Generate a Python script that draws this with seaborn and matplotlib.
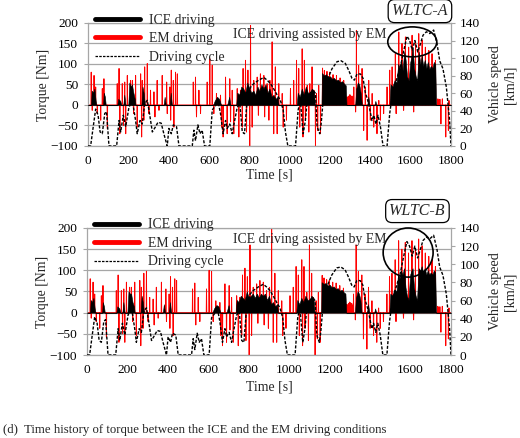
import numpy as np
import pandas as pd
import matplotlib
matplotlib.use("Agg")
import matplotlib.pyplot as plt
from matplotlib.patches import Ellipse
from matplotlib.lines import Line2D
import seaborn as sns

# ---------------- data ----------------
spd_t = [0, 13, 26, 38, 50, 60, 71, 83, 92, 104, 142, 154, 162, 175, 187, 203, 220, 236, 244, 258,
         269, 281, 294, 305, 319, 335, 347, 363, 376, 393, 401, 413, 423, 439, 451, 517, 525, 533,
         545, 555, 566, 578, 604, 616, 632, 644, 657, 670, 682, 690, 703, 715, 723, 740, 753, 765,
         776, 789, 806, 822, 847, 872, 888, 905, 921, 938, 954, 968, 979, 991, 1029, 1042, 1053,
         1067, 1078, 1087, 1100, 1116, 1128, 1136, 1149, 1156, 1166, 1186, 1210, 1235, 1255, 1276,
         1293, 1309, 1321, 1334, 1351, 1364, 1375, 1387, 1397, 1408, 1417, 1428, 1438, 1450, 1463,
         1483, 1496, 1512, 1529, 1549, 1569, 1582, 1595, 1608, 1621, 1635, 1648, 1661, 1678, 1695,
         1714, 1731, 1744, 1760, 1777, 1793, 1800]
spd_v = [0, 0, 22, 42, 35, 16, 14, 37, 39, 0, 0, 29, 16, 35, 22, 44, 52, 29, 14, 29,
         25, 48, 52, 37, 16, 22, 27, 26, 14, 0, 20, 14, 24, 22, 0, 0, 18, 6,
         24, 14, 18, 0, 0, 41, 46, 52, 37, 14, 29, 20, 25, 14, 24, 44, 48, 16,
         14, 52, 67, 71, 75, 78, 75, 71, 65, 58, 52, 41, 16, 0, 0, 41, 52,
         14, 29, 52, 60, 63, 60, 22, 14, 25, 52, 75, 88, 96, 97, 94,
         86, 77, 75, 82, 82, 77, 61, 52, 42, 29, 35, 25, 35, 22, 0,
         0, 37, 63, 75, 90, 112, 125, 120, 109, 120, 107, 116, 126, 130, 128,
         132, 116, 97, 88, 67, 29, 0]

# ICE driving torque, WLTC-A
ice_a_t = [0, 15, 18, 25, 32, 38, 42, 75, 78, 84, 88, 145, 150, 160, 165, 175, 180, 186, 200, 205,
           212, 218, 225, 232, 236, 265, 270, 276, 282, 375, 380, 386, 405, 410, 416, 620, 628, 640,
           650, 660, 690, 700, 706, 735, 740, 750, 760, 770, 780, 790, 800, 810, 820, 830, 840, 850,
           860, 870, 880, 890, 900, 910, 920, 930, 940, 945, 1035, 1040, 1050, 1060, 1070, 1080,
           1090, 1100, 1110, 1120, 1125, 1158, 1160, 1170, 1180, 1190, 1200, 1210, 1220, 1230, 1240,
           1250, 1260, 1270, 1278, 1282, 1325, 1330, 1338, 1345, 1352, 1358, 1385, 1390, 1396, 1420,
           1425, 1430, 1495, 1500, 1510, 1520, 1530, 1538, 1545, 1552, 1560, 1568, 1575, 1582, 1590,
           1598, 1605, 1610, 1617, 1625, 1632, 1640, 1648, 1655, 1662, 1670, 1678, 1685, 1692, 1700,
           1708, 1715, 1722, 1726, 1800]
ice_a_v = [0, 0, 35, 30, 40, 10, 0, 0, 30, 20, 0, 0, 15, 10, 0, 0, 25, 0, 0, 55,
           45, 50, 30, 15, 0, 0, 45, 30, 0, 0, 20, 0, 0, 30, 0, 0, 10, 20,
           15, 0, 0, 20, 0, 0, 30, 25, 45, 40, 30, 55, 40, 30, 35, 25, 45, 35,
           50, 40, 50, 30, 40, 20, 25, 15, 20, 0, 0, 30, 20, 40, 25, 45,
           30, 30, 40, 35, 0, 0, 78, 72, 75, 68, 70, 64, 66, 60, 62,
           56, 58, 52, 48, 0, 0, 40, 55, 50, 30, 0, 0, 20, 0, 0,
           10, 0, 0, 50, 45, 60, 55, 100, 90, 110, 85, 130, 110, 70, 60,
           105, 120, 140, 90, 70, 60, 130, 100, 120, 95, 110, 90, 105, 88, 95,
           90, 105, 100, 0, 0]

# EM driving torque spikes, WLTC-A
em_a_t = [16, 21, 30, 38, 46, 63, 71, 79, 96, 145, 154, 158, 170, 176, 182, 187, 195, 211, 220, 226,
          236, 244, 261, 266, 269, 277, 281, 294, 302, 310, 327, 332, 343, 352, 368, 390, 393, 406,
          410, 413, 423, 426, 434, 443, 522, 533, 538, 550, 558, 591, 604, 616, 624, 637, 657, 662,
          670, 682, 690, 703, 707, 715, 723, 740, 748, 756, 765, 769, 781, 786, 793, 802, 806, 814,
          822, 839, 845, 855, 872, 876, 888, 897, 902, 913, 921, 929, 938, 946, 963, 968, 984,
          1004, 1020, 1034, 1045, 1050, 1062, 1066, 1073, 1078, 1087, 1095, 1100, 1111, 1120, 1128,
          1133, 1139, 1144, 1153, 1163, 1172, 1185, 1198, 1215, 1232, 1250, 1268,
          1285, 1290, 1294, 1298, 1301, 1305, 1309, 1313, 1318,
          1327, 1331, 1342, 1359, 1367, 1375, 1384, 1392, 1400, 1409, 1417, 1433, 1442, 1450, 1466,
          1483, 1496, 1508, 1524, 1528, 1541, 1557, 1565, 1574, 1590, 1607, 1615, 1624, 1640, 1657,
          1673, 1690, 1706, 1723, 1735, 1740, 1745, 1750, 1757, 1774, 1787, 1790]
em_a_v = [80, -13, 72, 44, -21, -37, 40, 64, -58, 52, 89, -70, 52, -50, 56, -70, 72, 60, 60, -21,
          72, -54, 76, -78, 60, -37, 93, 101, -21, 36, 32, -29, 60, -13, 72, 56, -21, 44,
          -37, 85, 60, -54, 80, 76, 56, 68, -29, 36, -21, 56, 113, 97, -21, 28, 24, -54,
          -78, 68, -70, 64, -41, 36, -70, 40, -78, 36, -54, 89, 109, -66, 85, -100, 194, -54,
          60, 68, -25, 76, 72, -29, 52, -37, 60, 154, -70, 93, -70, 52, 28, -54, -37,
          40, 60, 109, 89, -54, 137, -78, 109, -37, 48, -66, 52, 93, 36, -100,
          28, -62, 48, -70, 90, 84, 82, 80, 74, 72, 66, 60,
          20, 18, 22, 25, 24, 20, 22, 18, 44,
          -17, 182, 97, 89, -62, 44, -86, 60, -37, 28, -54, -70, 11, -37, -21,
          44, 85, 93, 125, -21, 178, 150, -13, 166, 141, 170, -17, 150, 174, 158,
          141, 133, 125, 109, 15, 12, 14, -46, 15, -78, -62, 11]

# ICE driving torque, WLTC-B
ice_b_t = list(ice_a_t)
ice_b_v = [0, 0, 30, 25, 35, 10, 0, 0, 25, 15, 0, 0, 15, 10, 0, 0, 25, 0, 0, 50,
           45, 45, 25, 15, 0, 0, 40, 25, 0, 0, 20, 0, 0, 25, 0, 0, 10, 18,
           15, 0, 0, 18, 0, 0, 30, 25, 40, 35, 30, 50, 35, 40, 45, 35, 45, 35,
           45, 40, 45, 30, 40, 20, 25, 15, 20, 0, 0, 30, 20, 35, 25, 40,
           30, 30, 40, 35, 0, 0, 72, 68, 70, 64, 66, 60, 62, 56, 58,
           52, 54, 48, 45, 0, 0, 35, 50, 45, 30, 0, 0, 20, 0, 0,
           10, 0, 0, 45, 40, 55, 50, 90, 80, 100, 90, 105, 60, 40, 30,
           90, 100, 105, 60, 40, 30, 105, 100, 110, 95, 105, 90, 100, 90, 95,
           90, 100, 95, 0, 0]

# EM driving torque spikes, WLTC-B
em_b_t = list(em_a_t)
em_b_v = [80, -13, 72, 44, -21, -37, 40, 64, -58, 52, 89, -70, 52, -50, 56, -70, 72, 60, 60, -21,
          72, -54, 76, -78, 60, -37, 93, 98, -21, 36, 32, -29, 60, -13, 72, 56, -21, 44,
          -37, 85, 60, -54, 80, 76, 56, 70, -29, 36, -21, 56, 100, 97, -21, 28, 24, -54,
          -78, 68, -70, 64, -41, 36, -70, 40, -78, 36, -54, 89, 105, -66, 85, -100, 160, -54,
          60, 68, -25, 76, 72, -29, 52, -37, 60, 200, -70, 93, -70, 52, 28, -54, -37,
          40, 60, 109, 89, -54, 125, -78, 109, -37, 48, -66, 160, 93, 36, -100,
          28, -62, 48, -70, 88, 82, 78, 76, 72, 70, 64, 58,
          20, 18, 22, 25, 24, 20, 22, 18, 44,
          -17, 160, 97, 89, -62, 44, -86, 60, -37, 28, -54, -70, 11, -37, -21,
          44, 85, 93, 125, -21, 170, 150, -13, 166, 141, 170, -17, 150, 174, 158,
          141, 133, 125, 109, 15, 12, 14, -46, 15, -78, -62, 11]

x_ticks = [0, 200, 400, 600, 800, 1000, 1200, 1400, 1600, 1800]
y_ticks = [-100, -50, 0, 50, 100, 150, 200]
spd_ticks = [0, 20, 40, 60, 80, 100, 120, 140]
legend_labels = ["ICE driving", "EM driving", "Driving cycle"]
panel_tags = ["WLTC-A", "WLTC-B"]

# ---------------- style ----------------
sns.set_theme(style="white")
plt.rcParams["font.family"] = ["Liberation Serif", "DejaVu Serif"]

fig = plt.figure(figsize=(5.2, 4.38), dpi=100)
W, H = 520, 438
GRID = "#a6a6a6"
FS_TICK = 9.6
FS_LAB = 9.9


def axes_px(l, r, t, b):
    return fig.add_axes([l / W, 1 - b / H, (r - l) / W, (b - t) / H])


def spike_series(ts, vs):
    tt, vv = [0.0], [0.0]
    for t, v in sorted(zip(ts, vs)):
        tt += [t - 1.2, t, t + 1.2]
        vv += [0.0, v, 0.0]
    tt.append(1800.0)
    vv.append(0.0)
    return pd.DataFrame({"t": tt, "v": vv})


def draw_panel(ax, ice_t, ice_v, em_t, em_v, tag, ell, txt_y, tag_xy, xlabpad):
    em = spike_series(em_t, em_v)
    sns.lineplot(data=em, x="t", y="v", sort=False, estimator=None, color="red",
                 lw=0.7, ax=ax, zorder=2)
    ax.fill_between(ice_t, 0, ice_v, color="black", lw=0.4, zorder=3)
    ax.set_xlim(0, 1800)
    ax.set_ylim(-100, 200)
    ax.set_xticks(x_ticks)
    ax.set_yticks(y_ticks)
    ax.grid(axis="y", color=GRID, lw=0.9)
    ax.set_axisbelow(True)
    for s in ax.spines.values():
        s.set_color(GRID)
        s.set_linewidth(0.9)
    ax.tick_params(axis="x", labelsize=FS_TICK, length=0, pad=6.5, colors="black")
    ax.tick_params(axis="y", labelsize=FS_TICK, length=3, width=0.8, pad=4,
                   color=GRID, labelcolor="black", left=True)
    ax.set_xlabel("Time [s]", fontsize=FS_LAB, labelpad=xlabpad)
    ax.set_ylabel("Torque [Nm]", fontsize=FS_LAB, labelpad=0.5)

    ax2 = ax.twinx()
    spd = pd.DataFrame({"t": spd_t, "v": spd_v})
    sns.lineplot(data=spd, x="t", y="v", sort=False, estimator=None, color="black",
                 lw=1.0, ls=(0, (2.2, 1.2)), ax=ax2, zorder=4)
    ax2.set_ylim(0, 140)
    ax2.set_xlim(0, 1800)
    ax2.set_yticks(spd_ticks)
    ax2.tick_params(axis="y", labelsize=FS_TICK, length=3, width=0.8, pad=3,
                    color=GRID, labelcolor="black", right=True)
    ax2.set_ylabel("Vehicle speed\n[km/h]", fontsize=FS_LAB + 0.3, labelpad=7,
                   linespacing=1.15)
    ax2.set_xlabel("")
    for s in ax2.spines.values():
        s.set_visible(False)

    ax.add_patch(Ellipse((ell[0], ell[1]), ell[2], ell[3], fill=False, ec="black",
                         lw=1.2, zorder=6, clip_on=False))
    ax.text(1478, txt_y, "ICE driving assisted by EM", fontsize=FS_LAB, ha="right",
            va="center", zorder=7)
    ax.text(tag_xy[0], tag_xy[1], tag, fontsize=11.5, style="italic", ha="center", va="center",
            bbox=dict(boxstyle="round,pad=0.22,rounding_size=0.4", fc="white", ec="black", lw=0.9),
            zorder=8, clip_on=False)

    handles = [Line2D([], [], color="black", lw=3.5),
               Line2D([], [], color="red", lw=3.5),
               Line2D([], [], color="black", lw=0.9, ls=(0, (2.0, 1.0)))]
    ax.legend(handles, legend_labels, loc="upper left", bbox_to_anchor=(0.019, 1.075),
              frameon=False, fontsize=FS_LAB, handlelength=3.3, handletextpad=0.6,
              labelspacing=0.4, borderpad=0, borderaxespad=0)
    ax2.set_zorder(ax.get_zorder() + 1)
    ax.patch.set_visible(True)


ax_a = axes_px(88, 451, 23, 146)
draw_panel(ax_a, ice_a_t, ice_a_v, em_a_t, em_a_v, panel_tags[0],
           (1608, 154, 243, 73), 171, (1646, 229), 1)
ax_b = axes_px(87, 451, 228, 355)
draw_panel(ax_b, ice_b_t, ice_b_v, em_b_t, em_b_v, panel_tags[1],
           (1588, 142, 247, 116), 173, (1634, 240), 3)

fig.text(3 / W, 1 - 430 / H, "(d)  Time history of torque between the ICE and the EM driving conditions",
         fontsize=9.2, ha="left", va="center")

fig.savefig("out.png", dpi=100)
